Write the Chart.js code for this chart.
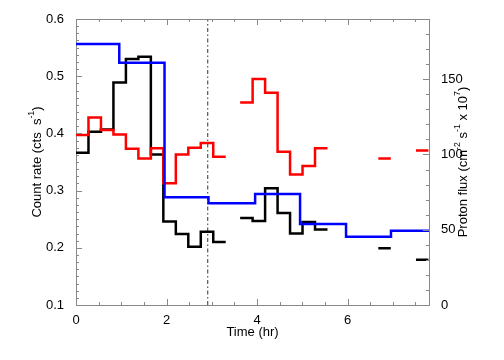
<!DOCTYPE html>
<html>
<head>
<meta charset="utf-8">
<script src="https://cdn.jsdelivr.net/npm/chart.js@4.4.1/dist/chart.umd.min.js"></script>
<style>
  html, body { margin: 0; padding: 0; background: #fff; }
  canvas { display: block; }
</style>
</head>
<body>
<canvas id="chart" width="504" height="360"></canvas>
<script>
// Count rate runs: each run starts at runStart[r] (hr) and has bins of binHr
const runStart = [0, 3.627, 6.68, 7.512];
const binHr = 0.2757;
const blackRate = [
  [0.366, 0.403, 0.407, 0.489, 0.530, 0.534, 0.363, 0.246, 0.224, 0.202, 0.228, 0.210],
  [0.252, 0.247, 0.304, 0.261, 0.225, 0.245, 0.232],
  [0.199],
  [0.179]
];
const redRate = [
  [0.397, 0.428, 0.406, 0.398, 0.373, 0.356, 0.374, 0.313, 0.363, 0.375, 0.383, 0.359],
  [0.454, 0.495, 0.471, 0.368, 0.328, 0.343, 0.374],
  [0.356],
  [0.370]
];

// Proton flux (right axis), hourly bins
const fluxEdges = [0, 0.956, 1.956, 2.927, 3.958, 4.951, 5.967, 6.96, 7.8];
const protonFlux = [173.4, 161, 71.6, 67.6, 73.8, 53.8, 45.4, 49.4];

const markerTime = 2.91;
const xTicks = [0, 2, 4, 6];
const countTicks = [0.1, 0.2, 0.3, 0.4, 0.5, 0.6];
const fluxTicks = [0, 50, 100, 150];

const FONT = '"Liberation Sans", Arial, Helvetica, sans-serif';
const AXIS_COLOR = '#888';

// build step points, with a null after each run so the runs stay apart
function histPoints(starts, runs, width) {
  const pts = [];
  runs.forEach((vals, r) => {
    vals.forEach((v, i) => pts.push({ x: starts[r] + i * width, y: v }));
    const end = starts[r] + vals.length * width;
    pts.push({ x: end, y: vals[vals.length - 1] });
    pts.push({ x: end, y: null });
  });
  return pts;
}

function edgePoints(edges, vals) {
  const pts = vals.map((v, i) => ({ x: edges[i], y: v }));
  pts.push({ x: edges[edges.length - 1], y: vals[vals.length - 1] });
  return pts;
}

function drawTitle(ctx, parts, cx, cy, size) {
  const supSize = size * 0.68;
  ctx.save();
  ctx.translate(cx, cy);
  ctx.rotate(-Math.PI / 2);
  let total = 0;
  parts.forEach(p => {
    ctx.font = (p.sup ? supSize : size) + 'px ' + FONT;
    p.w = ctx.measureText(p.text).width;
    total += p.w;
  });
  let x = -total / 2;
  ctx.textAlign = 'left';
  ctx.textBaseline = 'middle';
  ctx.fillStyle = '#000';
  parts.forEach(p => {
    ctx.font = (p.sup ? supSize : size) + 'px ' + FONT;
    ctx.fillText(p.text, x, p.sup ? -size * 0.42 : 0);
    x += p.w;
  });
  ctx.restore();
}

// IDL style ticks pointing into the plot, plus the top frame line
const innerTicks = {
  id: 'innerTicks',
  afterDraw(chart) {
    const { ctx, chartArea: a, scales } = chart;
    ctx.save();
    ctx.strokeStyle = AXIS_COLOR;
    ctx.lineWidth = 1;
    ctx.beginPath();
    ctx.moveTo(a.left, a.top + 0.5);
    ctx.lineTo(a.right, a.top + 0.5);
    for (let v = 0; v <= 7.8 + 1e-9; v += 0.5) {
      const px = Math.round(scales.x.getPixelForValue(v)) + 0.5;
      const len = Math.abs(v % 2) < 1e-9 ? 6 : 3;
      ctx.moveTo(px, a.bottom); ctx.lineTo(px, a.bottom - len);
      ctx.moveTo(px, a.top); ctx.lineTo(px, a.top + len);
    }
    for (let i = 0; i <= 40; i++) {
      const v = 0.1 + i * 0.0125;
      const py = Math.round(scales.y.getPixelForValue(v)) + 0.5;
      const len = i % 8 === 0 ? 6 : 3;
      ctx.moveTo(a.left, py); ctx.lineTo(a.left + len, py);
    }
    for (let v = 0; v <= 190; v += 10) {
      const py = Math.round(scales.y2.getPixelForValue(v)) + 0.5;
      const len = v % 50 === 0 ? 6 : 3;
      ctx.moveTo(a.right, py); ctx.lineTo(a.right - len, py);
    }
    ctx.stroke();
    ctx.restore();

    const cy = (a.top + a.bottom) / 2;
    drawTitle(ctx, [
      { text: 'Count rate (cts  s' }, { text: '-1', sup: true }, { text: ')' }
    ], 37, cy, 13);
    drawTitle(ctx, [
      { text: 'Proton flux (cm' }, { text: '-2', sup: true }, { text: ' s' },
      { text: '-1', sup: true }, { text: ' x 10' }, { text: '7', sup: true }, { text: ')' }
    ], 463, cy, 13);
  }
};

const stepStyle = {
  stepped: true,
  borderWidth: 2.5,
  pointRadius: 0,
  fill: false,
  borderJoinStyle: 'miter',
  borderCapStyle: 'butt'
};

new Chart(document.getElementById('chart').getContext('2d'), {
  type: 'line',
  data: {
    datasets: [
      { ...stepStyle, label: 'Proton flux', data: edgePoints(fluxEdges, protonFlux), borderColor: '#0000ff', yAxisID: 'y2' },
      { ...stepStyle, label: 'Red band', data: histPoints(runStart, redRate, binHr), borderColor: '#ff0000', yAxisID: 'y' },
      { ...stepStyle, label: 'Black band', data: histPoints(runStart, blackRate, binHr), borderColor: '#000000', yAxisID: 'y' },
      {
        label: 'Marker',
        data: [{ x: markerTime, y: countTicks[0] }, { x: markerTime, y: countTicks[countTicks.length - 1] }],
        borderColor: '#555',
        borderWidth: 1.2,
        borderDash: [4, 2.5, 1.5, 2.5],
        pointRadius: 0,
        yAxisID: 'y'
      }
    ]
  },
  options: {
    responsive: false,
    animation: false,
    devicePixelRatio: 1,
    layout: { padding: { top: 19, left: 0, right: 0, bottom: 0 } },
    plugins: { legend: { display: false }, tooltip: { enabled: false } },
    scales: {
      x: {
        type: 'linear',
        min: 0,
        max: 7.8,
        afterFit: s => { s.height = 55; },
        afterBuildTicks: s => { s.ticks = xTicks.map(v => ({ value: v })); },
        grid: { display: false },
        border: { display: true, color: AXIS_COLOR, width: 1 },
        ticks: { color: '#000', font: { family: FONT, size: 13 }, padding: 0, maxRotation: 0 },
        title: { display: true, text: 'Time (hr)', color: '#000', font: { family: FONT, size: 13 }, padding: { top: 0, bottom: 20 } }
      },
      y: {
        type: 'linear',
        position: 'left',
        min: 0.1,
        max: 0.6,
        afterFit: s => { s.width = 76; },
        afterBuildTicks: s => { s.ticks = countTicks.map(v => ({ value: v })); },
        grid: { display: false },
        border: { display: true, color: AXIS_COLOR, width: 1 },
        ticks: { color: '#000', font: { family: FONT, size: 13 }, padding: 4, callback: v => v.toFixed(1) }
      },
      y2: {
        type: 'linear',
        position: 'right',
        min: 0,
        max: 190,
        afterFit: s => { s.width = 75; },
        afterBuildTicks: s => { s.ticks = fluxTicks.map(v => ({ value: v })); },
        grid: { display: false },
        border: { display: true, color: AXIS_COLOR, width: 1 },
        ticks: { color: '#000', font: { family: FONT, size: 13 }, padding: 4 }
      }
    }
  },
  plugins: [innerTicks]
});
</script>
</body>
</html>
